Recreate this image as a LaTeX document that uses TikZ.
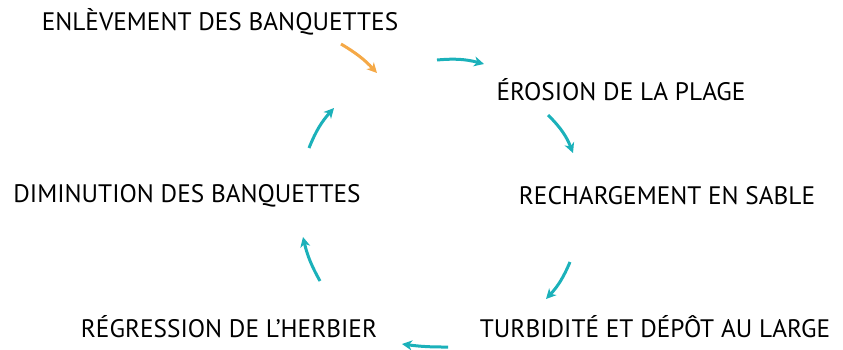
\documentclass[tikz,border=0pt]{standalone}
\usepackage{fontspec}
\setmainfont{PT Sans}
\usetikzlibrary{arrows.meta}
\definecolor{cycteal}{HTML}{1BB1BA}
\definecolor{cycorange}{HTML}{F5A947}

\begin{document}
\begin{tikzpicture}[x=1pt,y=-1pt,
            stage/.style = {font=\fontsize{25.3}{28}\selectfont,inner sep=0pt},
            cyc/.style = {draw=cycteal,line width=3pt,
                -{Stealth[length=10pt,width=10pt,inset=3pt]}},
            trigger/.style = {cyc,draw=cycorange}]
            \useasboundingbox (0,0) rectangle (843,349);
            % the steps of the cycle
            \node[stage] (enlev) at (220,22) {ENLÈVEMENT DES BANQUETTES};
            \node[stage] (erosion) at (621,90) {ÉROSION DE LA PLAGE};
            \node[stage] (recharge) at (667,196) {RECHARGEMENT EN SABLE};
            \node[stage] (turbid) at (655,327) {TURBIDITÉ ET DÉPÔT AU LARGE};
            \node[stage] (regress) at (229,327) {RÉGRESSION DE L’HERBIER};
            \node[stage] (dimin) at (187,196) {DIMINUTION DES BANQUETTES};
            % ends of the arrows
            \coordinate (o1) at (341,44);  \coordinate (o2) at (377,73);
            \coordinate (a1) at (437,60);  \coordinate (a2) at (484,64);
            \coordinate (b1) at (548,115); \coordinate (b2) at (573,153);
            \coordinate (c1) at (570,262); \coordinate (c2) at (546,299);
            \coordinate (d1) at (448,347); \coordinate (d2) at (402,344);
            \coordinate (e1) at (320,281); \coordinate (e2) at (303,237);
            \coordinate (f1) at (309,148); \coordinate (f2) at (334,108);
            \draw[trigger] (o1) to[bend left=8] (o2);
            \draw[cyc] (a1) to[bend left=10] (a2);
            \draw[cyc] (b1) to[bend left=12] (b2);
            \draw[cyc] (c1) to[bend left=10] (c2);
            \draw[cyc] (d1) to[bend left=4] (d2);
            \draw[cyc] (e1) to[bend left=8] (e2);
            \draw[cyc] (f1) to[bend left=10] (f2);
        \end{tikzpicture}
\end{document}
